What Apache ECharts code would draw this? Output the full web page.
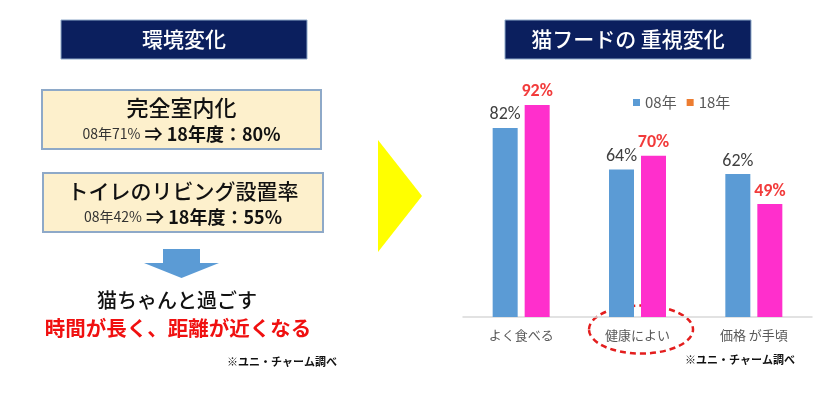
<!DOCTYPE html>
<html>
<head>
<meta charset="utf-8">
<script src="https://cdn.jsdelivr.net/npm/echarts@6/dist/echarts.min.js"></script>
<style>
html,body{margin:0;padding:0;background:#fff;}
#main{width:840px;height:399px;}
</style>
</head>
<body>
<div id="main"></div>
<script>
var categories = ['よく食べる', '健康によい', '価格 が手頃'];
var values08 = [82, 64, 62];
var values18 = [92, 70, 49];
var legendNames = ['08年', '18年'];

var JP = '"Noto Sans CJK JP", sans-serif';
var chart = echarts.init(document.getElementById('main'), null, {renderer: 'canvas'});

function titleBox(x, y, w, h, text) {
    return {
        type: 'group',
        children: [
            {type: 'rect', shape: {x: x, y: y, width: w, height: h},
             style: {fill: '#0B1F5E', stroke: '#8EA9C8', lineWidth: 1}},
            {type: 'text', x: x + w / 2, y: y + h / 2,
             style: {text: text, fill: '#fff', font: '500 21px ' + JP, align: 'center', verticalAlign: 'middle'}}
        ]
    };
}

function infoBox(x, y, w, h, head, headSize, small, big) {
    return {
        type: 'group',
        children: [
            {type: 'rect', shape: {x: x, y: y, width: w, height: h},
             style: {fill: '#FDF0CC', stroke: '#8EA9C8', lineWidth: 2}},
            {type: 'text', x: x + w / 2, y: y + 18,
             style: {text: head, fill: '#111', font: '500 ' + headSize + 'px ' + JP, align: 'center', verticalAlign: 'middle'}},
            {type: 'text', x: x + w / 2, y: y + 44,
             style: {
                 text: '{s|' + small + '}{b| ⇒ ' + big + '}',
                 align: 'center', verticalAlign: 'middle',
                 rich: {
                     s: {fontSize: 14, fontFamily: JP, fill: '#333'},
                     b: {fontSize: 18, fontWeight: 'bold', fontFamily: JP, fill: '#111'}
                 }
             }}
        ]
    };
}

chart.setOption({
    animation: false,
    legend: {
        left: 628,
        top: 90,
        itemWidth: 7,
        itemHeight: 7,
        itemGap: 10,
        textStyle: {color: '#595959', fontSize: 15, fontFamily: JP},
        data: [
            {name: legendNames[0], icon: 'rect', itemStyle: {color: '#5B9BD5'}},
            {name: legendNames[1], icon: 'rect', itemStyle: {color: '#ED7D31'}}
        ]
    },
    grid: {left: 463, right: 28, top: 86.5, bottom: 82},
    xAxis: {
        type: 'category',
        data: categories,
        axisLine: {lineStyle: {color: '#D9D9D9', width: 1.5}},
        axisTick: {show: false},
        axisLabel: {color: '#595959', fontSize: 13, fontFamily: JP, margin: 12}
    },
    yAxis: {
        type: 'value',
        min: 0,
        max: 100,
        show: false,
        splitLine: {show: false}
    },
    series: [
        {
            name: legendNames[0],
            type: 'bar',
            data: values08,
            barWidth: 25,
            barGap: '28%',
            itemStyle: {color: '#5B9BD5'},
            label: {show: true, position: 'top', formatter: '{c}%', color: '#404040',
                    fontSize: 18, fontFamily: 'Carlito, "Liberation Sans", sans-serif', distance: 4}
        },
        {
            name: legendNames[1],
            type: 'bar',
            data: values18,
            barWidth: 25,
            itemStyle: {color: '#FF2FCC'},
            label: {show: true, position: 'top', formatter: '{c}%', color: '#F23B3B', fontWeight: 'bold',
                    fontSize: 18, fontFamily: 'Carlito, "Liberation Sans", sans-serif', distance: 4}
        }
    ],
    graphic: [
        titleBox(61, 20, 246, 39, '環境変化'),
        titleBox(505, 20, 246, 39, '猫フードの 重視変化'),
        infoBox(42, 90, 279, 59, '完全室内化', 22, '08年71%', '18年度：80%'),
        infoBox(43, 173, 280, 59, 'トイレのリビング設置率', 21, '08年42%', '18年度：55%'),
        {
            type: 'polygon',
            shape: {points: [[163, 249], [200, 249], [200, 263], [219, 263], [181.5, 278], [144, 263], [163, 263]]},
            style: {fill: '#5B9BD5'}
        },
        {type: 'text', x: 177, y: 300,
         style: {text: '猫ちゃんと過ごす', fill: '#111', font: '500 20px ' + JP, align: 'center', verticalAlign: 'middle'}},
        {type: 'text', x: 178, y: 328,
         style: {text: '時間が長く、距離が近くなる', fill: '#F01010', font: 'bold 20.5px ' + JP, align: 'center', verticalAlign: 'middle'}},
        {type: 'text', x: 227, y: 362,
         style: {text: '※ユニ・チャーム調べ', fill: '#111', font: 'bold 11px ' + JP, verticalAlign: 'middle'}},
        {
            type: 'polygon',
            shape: {points: [[378, 140], [378, 252], [422, 196]]},
            style: {fill: '#FFFF00'}
        },
        {
            type: 'ellipse',
            shape: {cx: 641, cy: 329.5, rx: 52, ry: 24},
            style: {fill: 'none', stroke: '#E31E1E', lineWidth: 2.5, lineDash: [6, 4]}
        },
        {type: 'text', x: 685, y: 360,
         style: {text: '※ユニ・チャーム調べ', fill: '#111', font: 'bold 11px ' + JP, verticalAlign: 'middle'}}
    ]
});
</script>
</body>
</html>
